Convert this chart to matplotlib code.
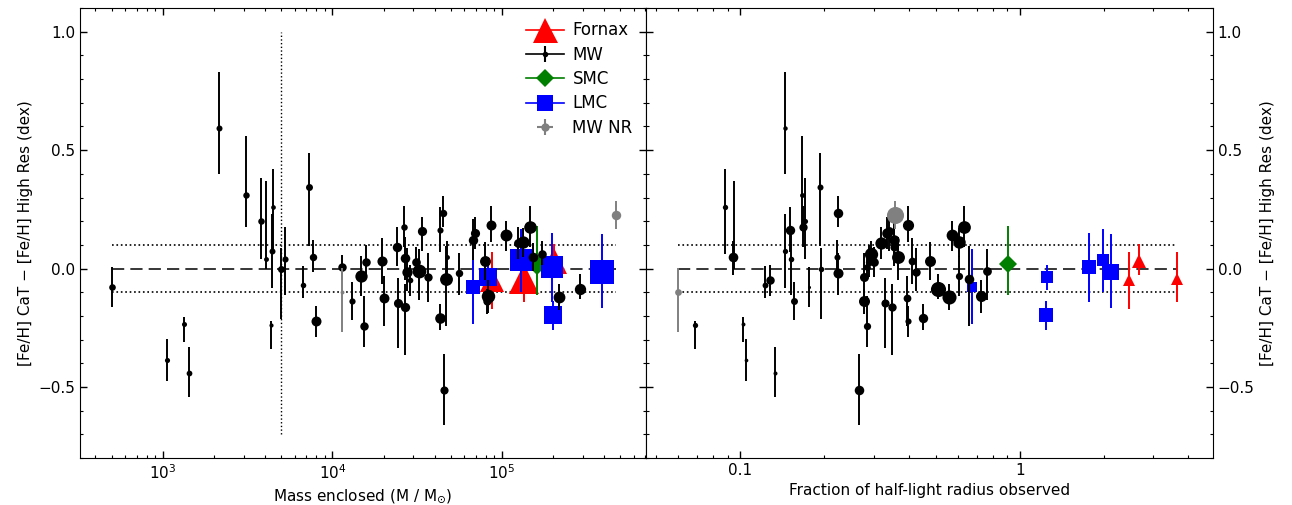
import numpy as np
import matplotlib
matplotlib.use('Agg')
import matplotlib.pyplot as plt
from matplotlib.lines import Line2D
from matplotlib.legend_handler import HandlerTuple
from matplotlib.ticker import FuncFormatter, MultipleLocator

# Milky Way clusters: enclosed mass, fraction of r_h observed, CaT - high res difference
mw_mass = [498, 1050, 1340, 1430, 2140, 3080, 3790, 4040, 4440, 4400,
           4340, 4950, 5250, 6700, 7300, 7640, 7990, 11400, 13000, 14700,
           15350, 15800, 19700, 20200, 23900, 24300, 26400, 26700, 26900, 27600,
           28700, 31200, 32300, 33700, 36700, 42900, 43100, 45100, 45700, 46800,
           47600, 56000, 67200, 69300, 79700, 83000, 81200, 86100, 105600, 123800,
           133600, 146300, 151700, 172900, 216900, 290400]
mw_frac = [0.176, 0.105, 0.102, 0.133, 0.144, 0.166, 0.170, 0.095, 0.088, 0.144,
           0.069, 0.195, 0.152, 0.123, 0.193, 0.221, 0.399, 0.285, 0.155, 0.604,
           0.285, 0.289, 0.411, 0.394, 0.355, 0.330, 0.168, 0.365, 0.348, 0.424,
           0.128, 0.300, 0.761, 0.341, 0.277, 0.449, 0.150, 0.224, 0.266, 0.659,
           0.094, 0.223, 0.355, 0.335, 0.477, 0.724, 0.277, 0.399, 0.570, 0.318,
           0.604, 0.632, 0.365, 0.293, 0.559, 0.511]
mw_dfeh = [-0.079, -0.387, -0.234, -0.443, 0.595, 0.312, 0.202, 0.039, 0.26, 0.073,
           -0.24, 0.0, 0.041, -0.069, 0.345, 0.05, -0.222, 0.005, -0.135, -0.031,
           -0.243, 0.027, 0.031, -0.124, 0.093, -0.145, 0.174, 0.045, -0.163, -0.013,
           -0.05, 0.028, -0.011, 0.157, -0.034, -0.209, 0.164, 0.234, -0.511, -0.044,
           0.048, -0.018, 0.121, 0.149, 0.03, -0.114, -0.137, 0.185, 0.143, 0.108,
           0.111, 0.177, 0.05, 0.062, -0.121, -0.086]
mw_err_lo = [0.084, 0.088, 0.077, 0.098, 0.196, 0.135, 0.16, 0.04, 0.2, 0.157,
             0.1, 0.213, 0.154, 0.056, 0.248, 0.066, 0.066, 0.053, 0.084, 0.084,
             0.088, 0.063, 0.095, 0.12, 0.08, 0.19, 0.084, 0.095, 0.2, 0.08,
             0.066, 0.065, 0.12, 0.081, 0.108, 0.052, 0.095, 0.06, 0.15, 0.2,
             0.077, 0.095, 0.084, 0.066, 0.08, 0.073, 0.055, 0.074, 0.067, 0.067,
             0.06, 0.087, 0.06, 0.045, 0.056, 0.042]
mw_err_hi = [0.084, 0.088, 0.03, 0.112, 0.236, 0.248, 0.18, 0.33, 0.16, 0.157,
             0.02, 0.088, 0.136, 0.081, 0.144, 0.07, 0.066, 0.053, 0.077, 0.086,
             0.129, 0.074, 0.098, 0.094, 0.081, 0.104, 0.091, 0.087, 0.098, 0.1,
             0.066, 0.062, 0.094, 0.062, 0.1, 0.058, 0.094, 0.073, 0.152, 0.14,
             0.07, 0.084, 0.087, 0.067, 0.081, 0.067, 0.05, 0.08, 0.059, 0.066,
             0.06, 0.088, 0.06, 0.053, 0.056, 0.063]

lmc_mass = [67700, 82950, 130300, 196500, 200700, 391500]
lmc_frac = [0.675, 1.25, 1.98, 1.77, 1.24, 2.12]
lmc_dfeh = [-0.077, -0.036, 0.036, 0.008, -0.198, -0.015]
lmc_err_lo = [0.158, 0.053, 0.135, 0.15, 0.063, 0.152]
lmc_err_hi = [0.158, 0.052, 0.13, 0.144, 0.063, 0.161]

fnx_mass = [86900, 134500, 201400]
fnx_frac = [2.45, 3.64, 2.66]
fnx_dfeh = [-0.05, -0.043, 0.034]
fnx_err_lo = [0.12, 0.1, 0.063]
fnx_err_hi = [0.12, 0.115, 0.07]

smc_mass = [160200]
smc_frac = [0.91]
smc_dfeh = [0.02]
smc_err_lo = [0.13]
smc_err_hi = [0.16]

nr_mass = [11430, 470700]
nr_frac = [0.060, 0.356]
nr_dfeh = [-0.097, 0.226]
nr_err_lo = [0.17, 0.058]
nr_err_hi = [0.10, 0.058]

mass_cut = 5000

groups = [
    # name, mass, frac, dfeh, err_lo, err_hi, marker, colour, zorder
    ('Fornax', fnx_mass, fnx_frac, fnx_dfeh, fnx_err_lo, fnx_err_hi, '^', '#ff0000', 3),
    ('SMC', smc_mass, smc_frac, smc_dfeh, smc_err_lo, smc_err_hi, 'D', '#007f00', 4),
    ('LMC', lmc_mass, lmc_frac, lmc_dfeh, lmc_err_lo, lmc_err_hi, 's', '#0000ff', 5),
    ('MW', mw_mass, mw_frac, mw_dfeh, mw_err_lo, mw_err_hi, 'o', '#000000', 6),
    ('MW NR', nr_mass, nr_frac, nr_dfeh, nr_err_lo, nr_err_hi, 'o', '#808080', 7),
]


def size_by_frac(frac):
    return 11.4 * np.sqrt(frac)


def size_by_mass(mass):
    return 0.47 * mass ** 0.25


def draw_points(ax, x, y, lo, hi, sizes, marker, color, zorder):
    for xi, yi, l, h, s in zip(x, y, lo, hi, sizes):
        ax.errorbar([xi], [yi], yerr=[[l], [h]], fmt=marker, color=color,
                    ms=s, mew=0, elinewidth=1.4, ecolor=color, capsize=0,
                    zorder=zorder)


fig = plt.figure(figsize=(12.92, 5.05), dpi=100)
ax1 = fig.add_axes([0.0619, 0.093, 0.4381, 0.891])
ax2 = fig.add_axes([0.5, 0.093, 0.4388, 0.891])

all_mass = mw_mass + lmc_mass + fnx_mass + smc_mass + nr_mass
all_frac = mw_frac + lmc_frac + fnx_frac + smc_frac + nr_frac

for name, mass, frac, dfeh, lo, hi, marker, color, z in groups:
    draw_points(ax1, mass, dfeh, lo, hi, [size_by_frac(f) for f in frac], marker, color, z)
    draw_points(ax2, frac, dfeh, lo, hi, [size_by_mass(m) for m in mass], marker, color, z)

for ax, xs in ((ax1, all_mass), (ax2, all_frac)):
    xmin, xmax = min(xs), max(xs)
    ax.plot([xmin, xmax], [0, 0], color='k', lw=1.1, dashes=(8, 4), zorder=1)
    ax.plot([xmin, xmax], [0.1, 0.1], color='k', lw=1.2, ls=':', zorder=1)
    ax.plot([xmin, xmax], [-0.1, -0.1], color='k', lw=1.2, ls=':', zorder=1)
    ax.set_xscale('log')
    ax.set_ylim(-0.8, 1.1)
    ax.yaxis.set_major_locator(MultipleLocator(0.5))
    ax.yaxis.set_minor_locator(MultipleLocator(0.1))
    ax.tick_params(which='both', direction='in', top=True, bottom=True,
                   left=True, right=True, labelsize=11)
    ax.tick_params(which='major', length=5, width=1)
    ax.tick_params(which='minor', length=2.5, width=0.8)

ax1.plot([mass_cut, mass_cut], [-0.7, 1.0], color='k', lw=1, ls=':', zorder=1)

ax1.set_xlim(324, 7.07e5)
ax2.set_xlim(0.046, 4.9)
ax2.xaxis.set_major_formatter(FuncFormatter(lambda v, p: '%g' % v))

ylab = '[Fe/H] CaT \u2212 [Fe/H] High Res (dex)'
ax1.set_ylabel(ylab, fontsize=11)
ax1.set_xlabel('Mass enclosed (M / M$_{\\odot}$)', fontsize=11)
ax2.set_xlabel('Fraction of half-light radius observed', fontsize=11)
ax2.yaxis.set_label_position('right')
ax2.set_ylabel(ylab, fontsize=11)
ax2.tick_params(axis='y', labelleft=False, labelright=True)


# legend proxies, drawn on top of each other
def proxy(marker, color, ms, line=True, bar_marker='|'):
    parts = []
    if line:
        parts.append(Line2D([], [], color=color, lw=1.2))
    parts.append(Line2D([], [], color=color, marker=bar_marker, ms=12, mew=1.5, ls='none'))
    parts.append(Line2D([], [], color=color, marker=marker, ms=ms, mew=0, ls='none'))
    return tuple(parts)


handles = [proxy('^', '#ff0000', 18), proxy('o', '#000000', 4),
           proxy('D', '#007f00', 9), proxy('s', '#0000ff', 11.5),
           proxy('o', '#808080', 6, line=False, bar_marker='+')]
labels = ['Fornax', 'MW', 'SMC', 'LMC', 'MW NR']
ax1.legend(handles, labels, handler_map={tuple: HandlerTuple(ndivide=1)},
           loc='upper right', frameon=False, fontsize=12, handlelength=2.3,
           labelspacing=0.38, borderaxespad=0.4, handletextpad=0.5)

fig.savefig('out.png', dpi=100)
